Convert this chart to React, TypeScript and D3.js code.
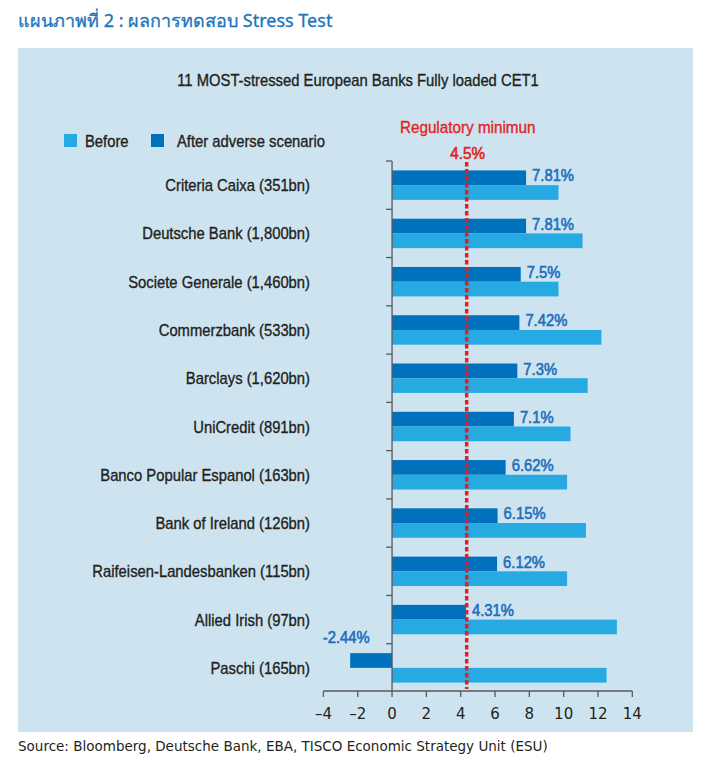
import React from "react";
import * as d3 from "d3";

const categories = [
  "Criteria Caixa (351bn)",
  "Deutsche Bank (1,800bn)",
  "Societe Generale (1,460bn)",
  "Commerzbank (533bn)",
  "Barclays (1,620bn)",
  "UniCredit (891bn)",
  "Banco Popular Espanol (163bn)",
  "Bank of Ireland (126bn)",
  "Raifeisen-Landesbanken (115bn)",
  "Allied Irish (97bn)",
  "Paschi (165bn)",
];
const beforeValues = [9.7, 11.1, 9.7, 12.2, 11.4, 10.4, 10.2, 11.3, 10.2, 13.1, 12.5];
const afterValues = [7.81, 7.81, 7.5, 7.42, 7.3, 7.1, 6.62, 6.15, 6.12, 4.31, -2.44];
const afterLabels = ["7.81%", "7.81%", "7.5%", "7.42%", "7.3%", "7.1%", "6.62%", "6.15%", "6.12%", "4.31%", "-2.44%"];
const xTicks = [-4, -2, 0, 2, 4, 6, 8, 10, 12, 14];
const regulatoryLinePos = 4.35;
const regulatoryLabel = "4.5%";
const seriesNames = ["Before", "After adverse scenario"];

const W = 708;
const H = 761;
const BG = "#cde4f0";
const DARK = "#0071bc";
const LIGHT = "#27aae1";
const RED = "#e31e25";
const BLUE_TXT = "#1f6fbd";
const TXT = "#231f20";
const AXIS = "#58595b";
const NARROW = "'Liberation Sans', Arial, sans-serif";

function CText({ x, y, anchor = "start", size = 16, fill = TXT, children, sw = 0.35 }: any) {
  return (
    <text
      transform={`translate(${x},${y}) scale(0.925,1)`}
      textAnchor={anchor}
      fontFamily={NARROW}
      fontSize={size}
      fill={fill}
      stroke={fill}
      strokeWidth={sw}
    >
      {children}
    </text>
  );
}

export default function App() {
  const x = d3.scaleLinear().domain([-4, 14]).range([323.4, 632.3]);
  const y = d3.scaleBand<string>().domain(categories).range([161, 692]).padding(0);
  const inner = d3
    .scaleBand<string>()
    .domain(["after", "before"])
    .range([0, y.bandwidth()])
    .paddingInner(0)
    .paddingOuter(0.64);
  const bw = inner.bandwidth();
  const x0 = x(0);
  const axisY = 691;
  const boundaries = categories.map((c) => y(c)!).concat([y.range()[1]]);

  return (
    <svg width={W} height={H} style={{ position: "absolute", left: 0, top: 0 }}>
      <rect x={0} y={0} width={W} height={H} fill="#ffffff" />
      <text
        x={18}
        y={27}
        fontFamily="'Noto Sans', 'DejaVu Sans', sans-serif"
        fontSize={18}
        fill="#1b75bc"
        stroke="#1b75bc"
        strokeWidth={0.3}
      >
        แผนภาพที่ 2 : ผลการทดสอบ Stress Test
      </text>
      <rect x={18} y={48} width={675} height={684} fill={BG} />

      <CText x={358} y={86} anchor="middle" size={16}>
        11 MOST-stressed European Banks Fully loaded CET1
      </CText>

      {/* legend */}
      <rect x={64} y={134} width={13} height={13} fill={LIGHT} />
      <CText x={85} y={147} size={16}>{seriesNames[0]}</CText>
      <rect x={151} y={134} width={13} height={13} fill={DARK} />
      <CText x={177} y={147} size={16}>{seriesNames[1]}</CText>

      {/* bars */}
      {categories.map((c, i) => {
        const b0 = y(c)!;
        const av = afterValues[i];
        const bv = beforeValues[i];
        const ay = b0 + inner("after")!;
        const by = b0 + inner("before")!;
        return (
          <g key={c}>
            <rect x={Math.min(x(av), x0)} y={ay} width={Math.abs(x(av) - x0)} height={bw} fill={DARK} />
            <rect x={Math.min(x(bv), x0)} y={by} width={Math.abs(x(bv) - x0)} height={bw} fill={LIGHT} />
            <CText x={310} y={b0 + y.bandwidth() / 2 + 6} anchor="end" size={16}>
              {c}
            </CText>
            {av >= 0 ? (
              <CText x={x(av) + 6} y={ay + 11} size={16} fill={BLUE_TXT} sw={0.6}>
                {afterLabels[i]}
              </CText>
            ) : (
              <CText x={x(av) - 4} y={b0 - 0.5} anchor="middle" size={16} fill={BLUE_TXT} sw={0.6}>
                {afterLabels[i]}
              </CText>
            )}
          </g>
        );
      })}

      {/* y axis */}
      <line x1={x0} x2={x0} y1={161} y2={axisY} stroke={AXIS} strokeWidth={1.3} />
      {boundaries.slice(0, -1).map((b, i) => (
        <line key={i} x1={x0 - 6} x2={x0} y1={b} y2={b} stroke={AXIS} strokeWidth={1.3} />
      ))}

      {/* regulatory line */}
      <line
        x1={x(regulatoryLinePos)}
        x2={x(regulatoryLinePos)}
        y1={162}
        y2={689}
        stroke={RED}
        strokeWidth={3.5}
        strokeDasharray="4.5,2.5"
      />
      <CText x={x(regulatoryLinePos) + 1} y={133} anchor="middle" size={16.5} fill={RED}>
        Regulatory minimun
      </CText>
      <CText x={x(regulatoryLinePos) + 1} y={159} anchor="middle" size={16.5} fill={RED} sw={0.6}>
        {regulatoryLabel}
      </CText>

      {/* x axis */}
      <line x1={x(-4)} x2={x(14)} y1={axisY} y2={axisY} stroke={AXIS} strokeWidth={1.3} />
      {xTicks.map((t) => (
        <g key={t}>
          <line x1={x(t)} x2={x(t)} y1={axisY} y2={axisY + 6} stroke={AXIS} strokeWidth={1.3} />
          <text
            x={x(t)}
            y={719}
            textAnchor="middle"
            fontFamily="'DejaVu Sans', sans-serif"
            fontSize={15}
            fill={TXT}
          >
            {t < 0 ? "\u2013" + Math.abs(t) : String(t)}
          </text>
        </g>
      ))}

      <text x={18} y={751} fontFamily="'DejaVu Sans', sans-serif" fontSize={13.5} fill={TXT}>
        Source: Bloomberg, Deutsche Bank, EBA, TISCO Economic Strategy Unit (ESU)
      </text>
    </svg>
  );
}
